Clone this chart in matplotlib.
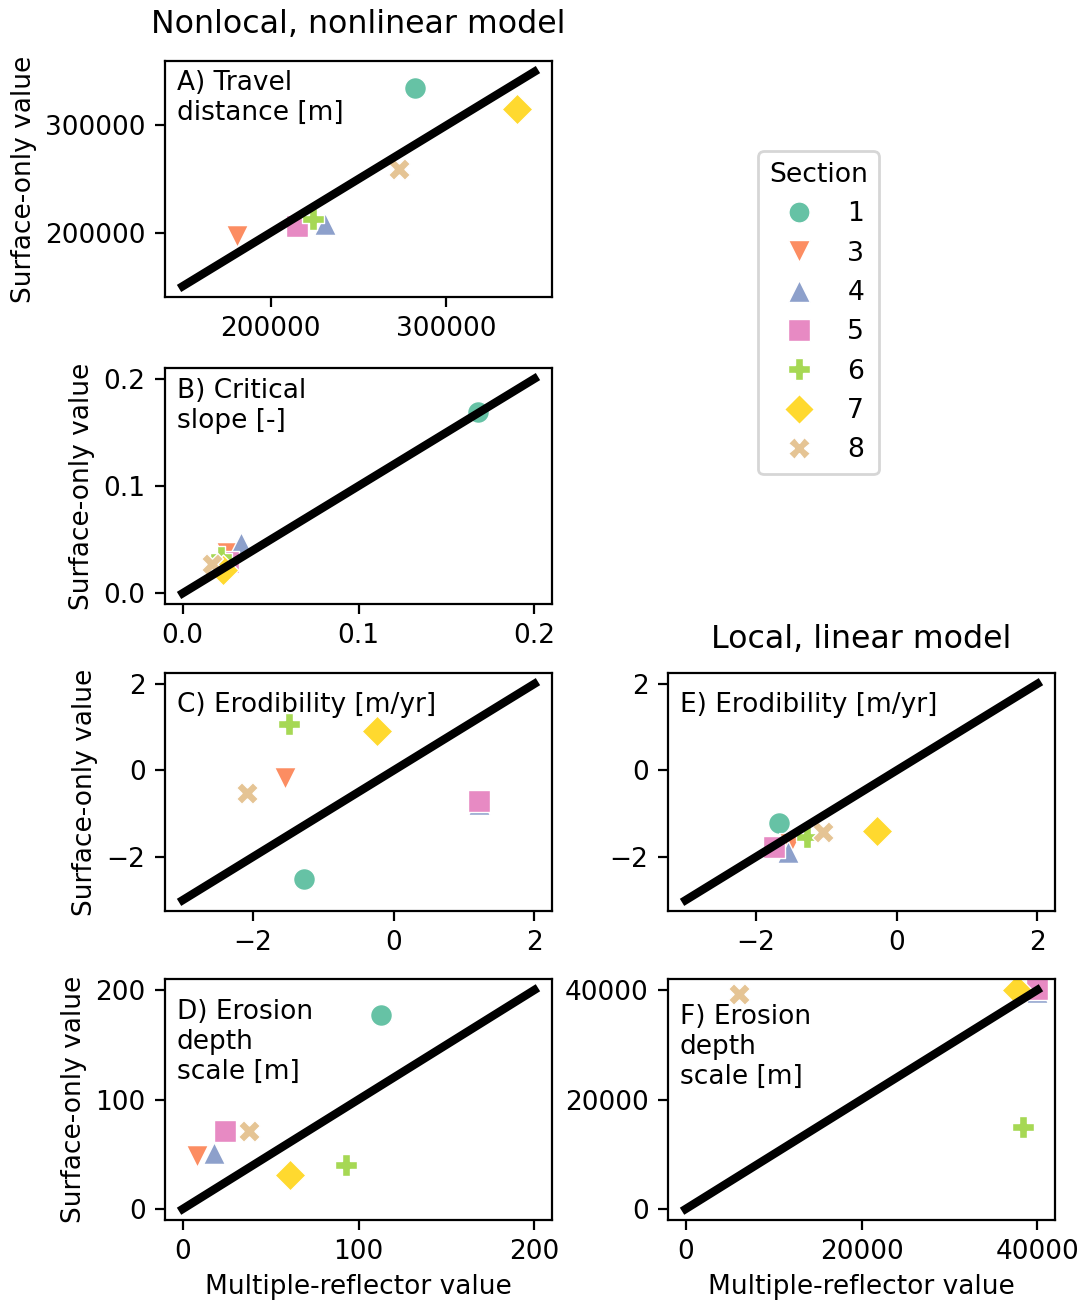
import matplotlib
matplotlib.use("Agg")
import matplotlib.pyplot as plt
from matplotlib.lines import Line2D

W, H = 1082, 1303
DPI = 200

sections = ["1", "3", "4", "5", "6", "7", "8"]
colors = ["#66c2a5", "#fc8d62", "#8da0cb", "#e78ac3", "#a6d854", "#ffd92f", "#e5c494"]
markers = ["o", "v", "^", "s", "P", "D", "X"]

# Nonlocal, nonlinear model
travel_mr = [282000, 181000, 231000, 215000, 224000, 340000, 273000]
travel_so = [335000, 197000, 208000, 206000, 213000, 315000, 259000]
slope_mr = [0.168, 0.025, 0.033, 0.026, 0.022, 0.023, 0.017]
slope_so = [0.169, 0.038, 0.047, 0.029, 0.034, 0.022, 0.027]
erod_nl_mr = [-1.28, -1.54, 1.21, 1.21, -1.49, -0.23, -2.08]
erod_nl_so = [-2.50, -0.17, -0.78, -0.70, 1.07, 0.91, -0.53]
depth_nl_mr = [113, 8, 18, 24, 93, 61, 38]
depth_nl_so = [177, 48, 51, 71, 40, 31, 71]

# Local, linear model
erod_l_mr = [-1.67, -1.52, -1.55, -1.74, -1.27, -0.28, -1.05]
erod_l_so = [-1.21, -1.70, -1.88, -1.77, -1.53, -1.40, -1.42]
depth_l_mr = [39800, 39700, 39900, 39900, 38400, 37700, 6100]
depth_l_so = [39800, 39700, 39600, 40100, 15000, 40000, 39300]

one_to_one = {
    "A": (150000, 350000),
    "B": (0.0, 0.2),
    "C": (-3, 2),
    "D": (0, 200),
    "E": (-3, 2),
    "F": (0, 40000),
}

plt.rcParams["font.family"] = ["DejaVu Sans"]
plt.rcParams["font.size"] = 9.5

fig = plt.figure(figsize=(W / DPI, H / DPI), dpi=DPI)


def rect(l, t, r, b):
    return [l / W, 1 - b / H, (r - l) / W, (b - t) / H]


panels = [
    ("A", rect(165, 61, 552, 297), travel_mr, travel_so, "A) Travel\ndistance [m]", [200000, 300000], 0.962),
    ("B", rect(165, 368, 552, 604), slope_mr, slope_so, "B) Critical\nslope [-]", [0.0, 0.1, 0.2], 0.958),
    ("C", rect(165, 673, 552, 911), erod_nl_mr, erod_nl_so, "C) Erodibility [m/yr]", [-2, 0, 2], 0.920),
    ("D", rect(165, 979, 552, 1220), depth_nl_mr, depth_nl_so, "D) Erosion\ndepth\nscale [m]", [0, 100, 200], 0.917),
    ("E", rect(668, 673, 1055, 911), erod_l_mr, erod_l_so, "E) Erodibility [m/yr]", [-2, 0, 2], 0.920),
    ("F", rect(668, 979, 1055, 1220), depth_l_mr, depth_l_so, "F) Erosion\ndepth\nscale [m]", [0, 20000, 40000], 0.896),
]

axes = {}
for key, r, xs, ys, label, ticks, ty in panels:
    ax = fig.add_axes(r)
    axes[key] = ax
    for x, y, c, m in zip(xs, ys, colors, markers):
        ax.scatter([x], [y], s=62, c=c, marker=m, edgecolors="white", linewidths=0.5, zorder=1)
    lo, hi = one_to_one[key]
    ax.plot([lo, hi], [lo, hi], color="black", lw=3, zorder=2)
    pad = 0.05 * (hi - lo)
    ax.set_xlim(lo - pad, hi + pad)
    ax.set_ylim(lo - pad, hi + pad)
    ax.set_xticks(ticks)
    ax.set_yticks(ticks)
    ax.text(0.03, ty, label, transform=ax.transAxes, ha="left", va="top", linespacing=1.2)

for k in ["A", "B", "C", "D"]:
    axes[k].set_ylabel("Surface-only value", labelpad=3)
for k in ["D", "F"]:
    axes[k].set_xlabel("Multiple-reflector value", labelpad=3)

axes["A"].set_title("Nonlocal, nonlinear model", fontsize=11.4, pad=10)
axes["E"].set_title("Local, linear model", fontsize=11.4, pad=9)

handles = [Line2D([], [], linestyle="none", marker=m, markersize=7.6, markerfacecolor=c,
                  markeredgecolor="white", markeredgewidth=0.5) for c, m in zip(colors, markers)]
fig.legend(handles, sections, title="Section", loc="upper left",
           bbox_to_anchor=(745 / W, 1 - 138 / H), fontsize=9.6, title_fontsize=9.6,
           labelspacing=0.5)

fig.savefig("out.png", dpi=DPI)
